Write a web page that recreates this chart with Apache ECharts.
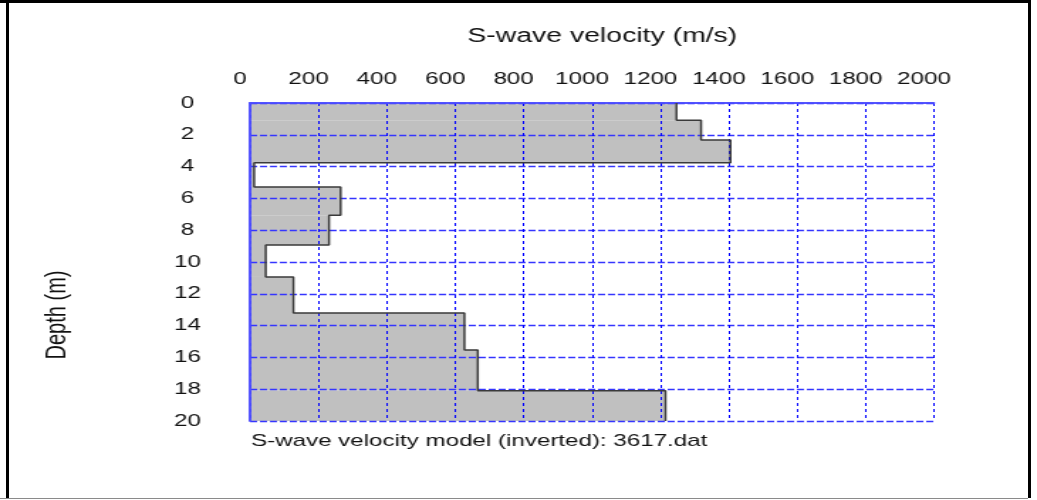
<!DOCTYPE html>
<html>
<head>
<meta charset="utf-8">
<script src="https://cdn.jsdelivr.net/npm/echarts@6/dist/echarts.min.js"></script>
<style>
  html, body { margin: 0; padding: 0; background: #fff; }
  #page { position: relative; width: 1037px; height: 500px; overflow: hidden; }
  /* original figure was stretched sideways, so draw narrow and stretch */
  #vs-chart { position: absolute; left: 0; top: 0; width: 730px; height: 500px;
    transform: scaleX(1.4205); transform-origin: 0 0; }
  .edge { position: absolute; background: #000; }
</style>
</head>
<body>
<div id="page">
  <div id="vs-chart"></div>
  <div class="edge" style="left:0;top:0;width:1031px;height:3px"></div>
  <div class="edge" style="left:6px;top:0;width:3px;height:498px"></div>
  <div class="edge" style="left:1028px;top:0;width:3px;height:498px"></div>
  <div class="edge" style="left:0;top:498px;width:1028px;height:1px;background:#8a8a8a"></div>
</div>
<script>
// layer boundaries (m) and S-wave velocity of each layer (m/s)
const depthBounds = [0, 1.09, 2.33, 3.75, 5.28, 7.06, 8.93, 10.94, 13.2, 15.53, 18.1, 20];
const velocities = [1247, 1319, 1405, 12, 265, 231, 46, 127, 627, 666, 1215];
const velocityTicks = [0, 200, 400, 600, 800, 1000, 1200, 1400, 1600, 1800, 2000];
const depthTicks = [0, 2, 4, 6, 8, 10, 12, 14, 16, 18, 20];

const font = 'Liberation Sans, Arial, sans-serif';

// one rect per layer: [velocity, top depth, bottom depth]
const layers = velocities.map((v, i) => [v, depthBounds[i], depthBounds[i + 1]]);

// stepped outline through the layer edges
const outline = [];
velocities.forEach((v, i) => {
  outline.push([v, depthBounds[i]]);
  outline.push([v, depthBounds[i + 1]]);
});

const chart = echarts.init(document.getElementById('vs-chart'));

chart.setOption({
  animation: false,
  grid: { left: 176, right: 72.5, top: 103, bottom: 79 },
  graphic: [
    { type: 'text', x: 424, y: 36,
      style: { text: 'S-wave velocity (m/s)', font: '20px ' + font, fill: '#111',
        textAlign: 'center', textVerticalAlign: 'middle' } },
    { type: 'text', x: 176.7, y: 441,
      style: { text: 'S-wave velocity model (inverted): 3617.dat', font: '17px ' + font, fill: '#111',
        textAlign: 'left', textVerticalAlign: 'middle' } },
    { type: 'text', x: 40, y: 315, rotation: Math.PI / 2,
      style: { text: 'Depth (m)', font: '20px ' + font, fill: '#111',
        textAlign: 'center', textVerticalAlign: 'middle' } }
  ],
  xAxis: [
    {
      type: 'value', position: 'top', z: 3,
      min: velocityTicks[0], max: velocityTicks[velocityTicks.length - 1], interval: 200,
      axisLine: { show: true, lineStyle: { color: '#4b4bff', width: 1.5 } },
      axisTick: { show: false },
      axisLabel: { margin: 15, color: '#111', fontSize: 17, fontFamily: font, padding: [0, 14, 0, 0],
        formatter: v => String(v) },
      splitLine: { show: true, lineStyle: { color: '#0000ff', width: 1, type: [3, 3] } }
    },
    {
      type: 'value', position: 'bottom', z: 3,
      min: 0, max: 2000,
      axisLine: { show: true, lineStyle: { color: '#4b4bff', width: 1.5 } },
      axisTick: { show: false }, axisLabel: { show: false }, splitLine: { show: false }
    }
  ],
  yAxis: [
    {
      type: 'value', inverse: true, z: 3,
      min: depthTicks[0], max: depthTicks[depthTicks.length - 1], interval: 2,
      axisLine: { show: true, lineStyle: { color: '#4b4bff', width: 1.5 } },
      axisTick: { show: false },
      axisLabel: { margin: 44, align: 'center', color: '#111', fontSize: 17, fontFamily: font, padding: [0, 0, 4, 0] },
      splitLine: { show: true, lineStyle: { color: '#3535ff', width: 1.4, type: [5, 2] } }
    },
    {
      type: 'value', inverse: true, position: 'right', z: 3,
      min: 0, max: 20,
      axisLine: { show: true, lineStyle: { color: '#4b4bff', width: 1.5 } },
      axisTick: { show: false }, axisLabel: { show: false }, splitLine: { show: false }
    }
  ],
  series: [
    {
      type: 'custom', z: 1,
      xAxisIndex: 0, yAxisIndex: 0,
      data: layers,
      renderItem(params, api) {
        const p0 = api.coord([0, api.value(1)]);
        const p1 = api.coord([api.value(0), api.value(2)]);
        return {
          type: 'rect',
          shape: { x: p0[0], y: p0[1], width: p1[0] - p0[0], height: p1[1] - p0[1] },
          style: { fill: '#c0c0c0' }
        };
      }
    },
    {
      type: 'line', z: 5,
      xAxisIndex: 0, yAxisIndex: 0,
      data: outline,
      symbol: 'none',
      lineStyle: { color: '#3a3a3a', width: 1.5 }
    }
  ]
});
</script>
</body>
</html>
